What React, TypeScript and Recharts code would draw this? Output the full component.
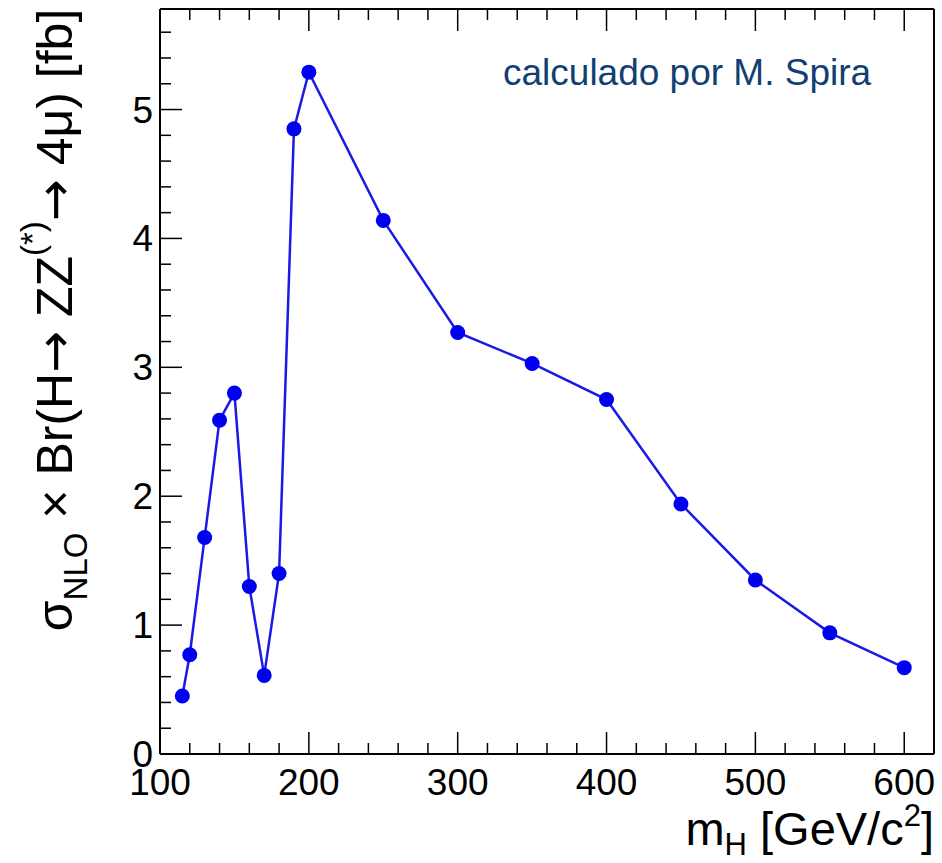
import React from 'react';
import { LineChart, Line, XAxis, YAxis } from 'recharts';

// m_H [GeV/c^2]
const masses = [115, 120, 130, 140, 150, 160, 170, 180, 190, 200, 250, 300, 350, 400, 450, 500, 550, 600];
// sigma_NLO x Br(H -> ZZ(*) -> 4mu) [fb]
const sigmaBr = [0.45, 0.77, 1.68, 2.59, 2.8, 1.3, 0.61, 1.4, 4.85, 5.29, 4.14, 3.27, 3.03, 2.75, 1.94, 1.35, 0.94, 0.67];

const xTicks = [100, 120, 140, 160, 180, 200, 220, 240, 260, 280, 300, 320, 340, 360, 380, 400, 420, 440, 460, 480, 500, 520, 540, 560, 580, 600, 620];
const xMajor = [100, 200, 300, 400, 500, 600];
const yTicks = [0, 0.2, 0.4, 0.6, 0.8, 1, 1.2, 1.4, 1.6, 1.8, 2, 2.2, 2.4, 2.6, 2.8, 3, 3.2, 3.4, 3.6, 3.8, 4, 4.2, 4.4, 4.6, 4.8, 5, 5.2, 5.4, 5.6];
const yMajor = [0, 1, 2, 3, 4, 5];

const data = masses.map((m, i) => ({ m, v: sigmaBr[i] }));

const FONT = 'Liberation Sans, Arial, Helvetica, sans-serif';
const ARROW_FONT = 'DejaVu Sans, sans-serif';
const MAJOR = 22;
const MINOR = 11;

type TickProps = { x: number; y: number; payload: { value: number } };

function BottomTick({ x, y, payload }: TickProps) {
  const major = xMajor.includes(payload.value);
  return (
    <g>
      <line x1={x} x2={x} y1={y} y2={y - (major ? MAJOR : MINOR)} stroke="#000" strokeWidth={1.5} />
      {major && (
        <text x={x} y={y + 41} textAnchor="middle" fontSize={37} fontFamily={FONT} fill="#000">
          {payload.value}
        </text>
      )}
    </g>
  );
}

function TopTick({ x, y, payload }: TickProps) {
  const major = xMajor.includes(payload.value);
  return <line x1={x} x2={x} y1={y} y2={y + (major ? MAJOR : MINOR)} stroke="#000" strokeWidth={1.5} />;
}

function LeftTick({ x, y, payload }: TickProps) {
  const major = yMajor.includes(payload.value);
  return (
    <g>
      <line x1={x} x2={x + (major ? MAJOR : MINOR)} y1={y} y2={y} stroke="#000" strokeWidth={1.5} />
      {major && (
        <text x={x - 7} y={y + 13} textAnchor="end" fontSize={37} fontFamily={FONT} fill="#000">
          {payload.value}
        </text>
      )}
    </g>
  );
}

function RightTick({ x, y, payload }: TickProps) {
  const major = yMajor.includes(payload.value);
  return <line x1={x} x2={x - (major ? MAJOR : MINOR)} y1={y} y2={y} stroke="#000" strokeWidth={1.5} />;
}

function YTitle() {
  return (
    <text
      transform="translate(72, 320) rotate(-90)"
      textAnchor="middle"
      fontSize={50}
      fontFamily={FONT}
      fill="#000"
    >
      <tspan>σ</tspan>
      <tspan fontSize={33} dy={15}>NLO</tspan>
      <tspan dy={-15}> × Br(H</tspan>
      <tspan fontFamily={ARROW_FONT}>→</tspan>
      <tspan> ZZ</tspan>
      <tspan fontSize={33} dy={-28}>(*)</tspan>
      <tspan dy={28} fontFamily={ARROW_FONT}>→</tspan>
      <tspan> 4μ) [fb]</tspan>
    </text>
  );
}

function XTitle() {
  return (
    <text x={934} y={845} textAnchor="end" fontSize={47} fontFamily={FONT} fill="#000">
      <tspan>m</tspan>
      <tspan fontSize={31} dy={10}>H</tspan>
      <tspan dy={-10}> [GeV/c</tspan>
      <tspan fontSize={31} dy={-19}>2</tspan>
      <tspan dy={19}>]</tspan>
    </text>
  );
}

export default function App() {
  return (
    <div style={{ position: 'absolute', left: 0, top: 0, background: '#fff' }}>
      <LineChart width={942} height={863} data={data} margin={{ top: 8, right: 7, bottom: 59, left: 100 }}>
        <XAxis
          dataKey="m"
          type="number"
          domain={[100, 620]}
          ticks={xTicks}
          interval={0}
          height={50}
          tickSize={0}
          tickMargin={0}
          tick={BottomTick}
          axisLine={{ stroke: '#000', strokeWidth: 2 }}
          tickLine={false}
        />
        <XAxis
          xAxisId="top"
          orientation="top"
          dataKey="m"
          type="number"
          domain={[100, 620]}
          ticks={xTicks}
          interval={0}
          height={1}
          tickSize={0}
          tickMargin={0}
          tick={TopTick}
          axisLine={{ stroke: '#000', strokeWidth: 2 }}
          tickLine={false}
        />
        <YAxis
          type="number"
          domain={[0, 5.78]}
          ticks={yTicks}
          interval={0}
          width={60}
          tickSize={0}
          tickMargin={0}
          tick={LeftTick}
          axisLine={{ stroke: '#000', strokeWidth: 2 }}
          tickLine={false}
        />
        <YAxis
          yAxisId="right"
          orientation="right"
          type="number"
          domain={[0, 5.78]}
          ticks={yTicks}
          interval={0}
          width={1}
          tickSize={0}
          tickMargin={0}
          tick={RightTick}
          axisLine={{ stroke: '#000', strokeWidth: 2 }}
          tickLine={false}
        />
        <Line
          dataKey="v"
          stroke="#1a1ae8"
          strokeWidth={2.5}
          dot={{ r: 7.5, fill: '#0000f0', stroke: 'none' }}
          activeDot={false}
          isAnimationActive={false}
        />
        <YTitle />
        <XTitle />
        <text x={503} y={85} fontSize={37} fontFamily={FONT} fill="#123f73">
          calculado por M. Spira
        </text>
      </LineChart>
    </div>
  );
}
